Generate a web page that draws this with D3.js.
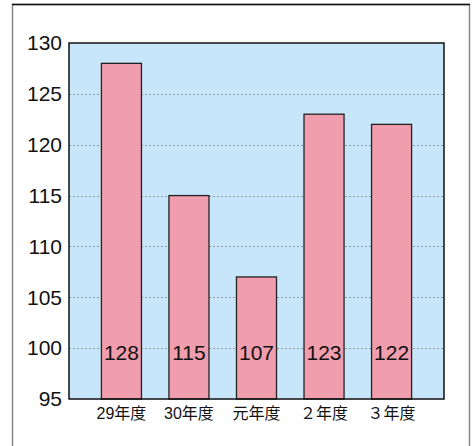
<!DOCTYPE html>
<html>
<head>
<meta charset="utf-8">
<script src="https://cdn.jsdelivr.net/npm/d3@7"></script>
<style>
  body { margin: 0; background: #fff; }
  svg { display: block; font-family: "Liberation Sans", Arial, "Noto Sans CJK JP", sans-serif; }
</style>
</head>
<body>
<div id="vis"></div>
<script>
// Bar chart by fiscal year, values shown inside bars.

const YEARS  = ["29年度", "30年度", "元年度", "２年度", "３年度"];
const VALUES = [128, 115, 107, 123, 122];
const Y_TICKS = [95, 100, 105, 110, 115, 120, 125, 130];

const W = 472, H = 446;
const plot = { left: 69, top: 43, right: 444, bottom: 399 };

const svg = d3.select("#vis").append("svg").attr("width", W).attr("height", H);

// outer frame (open at the bottom)
svg.append("path")
  .attr("d", `M12.5,${H} V4.5 H469.5 V${H}`)
  .attr("fill", "none").attr("stroke", "#888").attr("stroke-width", 1.5);
svg.append("line")
  .attr("x1", 12).attr("x2", 470).attr("y1", 4.5).attr("y2", 4.5)
  .attr("stroke", "#111").attr("stroke-width", 1.5);

const x = d3.scaleBand()
  .domain(YEARS).range([plot.left, plot.right])
  .paddingInner(0.407).paddingOuter(0.48);

const y = d3.scaleLinear().domain([95, 130]).range([plot.bottom, plot.top]);

// plot background
svg.append("rect")
  .attr("x", plot.left).attr("y", plot.top)
  .attr("width", plot.right - plot.left).attr("height", plot.bottom - plot.top)
  .attr("fill", "#c7e6f9");

// dotted grid
svg.append("g").selectAll("line")
  .data(Y_TICKS.filter(t => t > 95 && t < 130)).join("line")
  .attr("x1", plot.left).attr("x2", plot.right)
  .attr("y1", d => Math.round(y(d)) + 0.5).attr("y2", d => Math.round(y(d)) + 0.5)
  .attr("stroke", "#909aa2").attr("stroke-width", 1).attr("stroke-dasharray", "2,2");

// bars
svg.append("g").selectAll("rect").data(VALUES).join("rect")
  .attr("x", (d, i) => x(YEARS[i])).attr("y", d => y(d))
  .attr("width", x.bandwidth()).attr("height", d => plot.bottom - y(d))
  .attr("fill", "#f09dad").attr("stroke", "#222").attr("stroke-width", 1.3);

// value labels
svg.append("g").selectAll("text").data(VALUES).join("text")
  .attr("x", (d, i) => x(YEARS[i]) + x.bandwidth() / 2).attr("y", y(100) + 12)
  .attr("text-anchor", "middle").style("font-size", "21px").style("fill", "#111")
  .text(d => d);

// plot border
svg.append("rect")
  .attr("x", plot.left).attr("y", plot.top)
  .attr("width", plot.right - plot.left).attr("height", plot.bottom - plot.top)
  .attr("fill", "none").attr("stroke", "#111").attr("stroke-width", 1.5);

// y axis labels
const yAxis = svg.append("g").attr("transform", `translate(${plot.left},0)`)
  .call(d3.axisLeft(y).tickValues(Y_TICKS).tickSize(0).tickPadding(7));
yAxis.select(".domain").remove();
yAxis.selectAll("text").style("font-size", "21px").style("fill", "#111")
  .style("font-family", "'Liberation Sans', Arial, sans-serif");

// x axis labels
const xAxis = svg.append("g").attr("transform", `translate(0,${plot.bottom})`)
  .call(d3.axisBottom(x).tickSize(0).tickPadding(9));
xAxis.select(".domain").remove();
xAxis.selectAll("text").style("font-size", "16px").style("fill", "#111")
  .style("font-family", "'Liberation Sans', 'Noto Sans CJK JP', sans-serif");
</script>
</body>
</html>
